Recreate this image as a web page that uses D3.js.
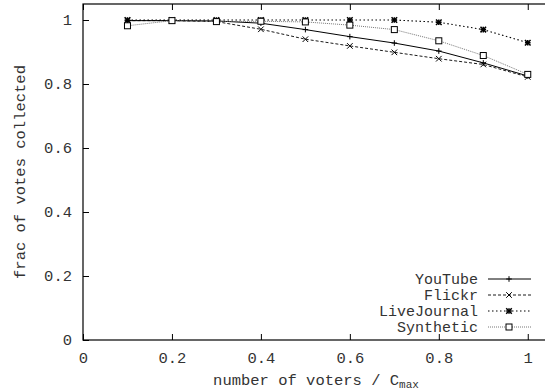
<!DOCTYPE html>
<html>
<head>
<meta charset="utf-8">
<script src="https://cdn.jsdelivr.net/npm/d3@7"></script>
<style>
  body { margin: 0; background: #fff; }
  text { font-family: "Liberation Mono", "Courier New", monospace; font-size: 15px; fill: #333; }
</style>
</head>
<body>
<div class="chart"></div>
<script>
const voters = [0.1, 0.2, 0.3, 0.4, 0.5, 0.6, 0.7, 0.8, 0.9, 1.0];
const youtube = [0.998, 0.998, 0.997, 0.99, 0.97, 0.948, 0.928, 0.903, 0.866, 0.825];
const flickr = [0.998, 0.998, 0.995, 0.971, 0.94, 0.919, 0.899, 0.879, 0.861, 0.822];
const livejournal = [1.0, 1.0, 1.0, 1.0, 1.0, 1.0, 1.0, 0.993, 0.97, 0.929];
const synthetic = [0.982, 0.998, 0.995, 0.996, 0.994, 0.984, 0.97, 0.935, 0.889, 0.83];
const seriesNames = ["YouTube", "Flickr", "LiveJournal", "Synthetic"];
const xTicks = [0, 0.2, 0.4, 0.6, 0.8, 1];
const yTicks = [0, 0.2, 0.4, 0.6, 0.8, 1];

const W = 545, H = 392;
const margin = { top: 4, left: 83 };
const plotW = 467, plotH = 336; // x: 0..1.05, y: 0..1.05

const svg = d3.select('.chart').append('svg')
  .attr('width', W).attr('height', H);

const g = svg.append('g')
  .attr('transform', `translate(${margin.left}, ${margin.top})`);

const x = d3.scaleLinear().domain([0, 1.05]).range([0, plotW]);
const y = d3.scaleLinear().domain([0, 1.05]).range([plotH, 0]);

// frame
g.append('rect')
  .attr('width', plotW).attr('height', plotH)
  .attr('fill', 'none').attr('stroke', '#000').attr('stroke-width', 1.2);

// ticks (inward, mirrored) + labels
g.append('g').attr('transform', `translate(0, ${plotH})`)
  .call(d3.axisBottom(x).tickValues(xTicks).tickSizeInner(-6).tickSizeOuter(0)
    .tickPadding(12).tickFormat(d3.format('~g')))
  .call(a => a.select('.domain').remove());
g.append('g')
  .call(d3.axisTop(x).tickValues(xTicks).tickSizeInner(-6).tickSizeOuter(0).tickFormat(''))
  .call(a => a.select('.domain').remove());
g.append('g')
  .call(d3.axisLeft(y).tickValues(yTicks).tickSizeInner(-6).tickSizeOuter(0)
    .tickPadding(11).tickFormat(d3.format('~g')))
  .call(a => a.select('.domain').remove());
g.selectAll('.tick text')
  .style('font-family', '"Liberation Mono", monospace')
  .style('font-size', '15.5px')
  .attr('fill', '#333');

// axis titles
svg.append('text')
  .attr('transform', `translate(25, ${margin.top + plotH / 2}) rotate(-90)`)
  .attr('text-anchor', 'middle')
  .style('font-size', '15.5px')
  .text('frac of votes collected');
const xt = svg.append('text')
  .attr('x', 316).attr('y', 385)
  .attr('text-anchor', 'middle')
  .style('font-size', '15.5px');
xt.append('tspan').text('number of voters / C');
xt.append('tspan').attr('dy', 3).style('font-size', '11px').text('max');

// series
const data = [youtube, flickr, livejournal, synthetic];
const styles = [
  { dash: null, color: '#000', width: 1, marker: 'plus' },
  { dash: '3,2', color: '#000', width: 0.9, marker: 'cross' },
  { dash: '1.5,2.5', color: '#000', width: 1.1, marker: 'star' },
  { dash: '1,1', color: '#666', width: 0.9, marker: 'square' }
];

function drawMarker(sel, type) {
  const s = 2.8;
  if (type === 'plus' || type === 'star') {
    sel.append('path').attr('d', `M${-s},0H${s}M0,${-s}V${s}`)
      .attr('stroke', '#000').attr('stroke-width', type === 'star' ? 1.5 : 1);
  }
  if (type === 'cross' || type === 'star') {
    sel.append('path').attr('d', `M${-s},${-s}L${s},${s}M${-s},${s}L${s},${-s}`)
      .attr('stroke', '#000').attr('stroke-width', type === 'star' ? 1.5 : 1);
  }
  if (type === 'square') {
    sel.append('rect').attr('x', -3).attr('y', -3).attr('width', 6).attr('height', 6)
      .attr('fill', '#fff').attr('stroke', '#000').attr('stroke-width', 1);
  }
}

const line = d3.line().x((d, i) => x(voters[i])).y(d => y(d));

data.forEach((vals, k) => {
  const st = styles[k];
  g.append('path').datum(vals)
    .attr('d', line)
    .attr('fill', 'none')
    .attr('stroke', st.color)
    .attr('stroke-width', st.width)
    .attr('stroke-dasharray', st.dash);
  vals.forEach((v, i) => {
    const m = g.append('g').attr('transform', `translate(${x(voters[i])}, ${y(v)})`);
    drawMarker(m, st.marker);
  });
});

// legend
const legendRows = [279, 295, 311, 327];
seriesNames.forEach((name, k) => {
  const st = styles[k];
  const ly = legendRows[k];
  svg.append('text').attr('x', 478).attr('y', ly + 5)
    .attr('text-anchor', 'end').text(name);
  svg.append('line').attr('x1', 488).attr('x2', 531).attr('y1', ly).attr('y2', ly)
    .attr('stroke', st.color).attr('stroke-width', st.width)
    .attr('stroke-dasharray', st.dash);
  const m = svg.append('g').attr('transform', `translate(509, ${ly})`);
  drawMarker(m, st.marker);
});
</script>
</body>
</html>
